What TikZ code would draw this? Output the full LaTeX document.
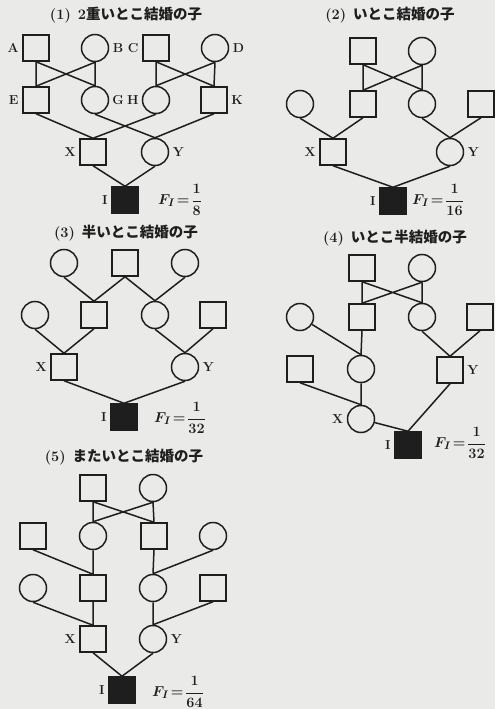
\documentclass[tikz,border=0pt]{standalone}
\usepackage{fontspec}
\newfontfamily\jp{Noto Sans CJK JP}
\definecolor{bg}{RGB}{234,234,232}
\definecolor{ink}{RGB}{30,30,30}
\newcommand{\fifrac}[2]{$F_I\!=\!{\displaystyle\frac{#1}{#2}}$}
\begin{document}
\begin{tikzpicture}[x=1pt,y=-1pt,
  sq/.style={draw=ink, rectangle, minimum size=26pt, inner sep=0pt, line width=1.5pt, fill=bg},
  ci/.style={draw=ink, circle, minimum size=27pt, inner sep=0pt, line width=1.5pt, fill=bg},
  aff/.style={draw=ink, fill=ink, rectangle, minimum size=26pt, inner sep=0pt, line width=1.5pt},
  ln/.style={draw=ink, line width=1.5pt},
  lab/.style={font=\fontsize{13}{15}\selectfont\bfseries, inner sep=1pt, text=ink},
  ttl/.style={font=\fontsize{14.5}{16}\selectfont\bfseries, text=ink},
  fval/.style={font=\fontsize{15}{17}\selectfont\boldmath, text=ink, inner sep=0pt},
  label distance=2.5pt,
  every label/.style={lab}]
\fill[bg] (0,0) rectangle (495,709);
\useasboundingbox (0,0) rectangle (495,709);

% ---------- (1)
\node[ttl] (t1) at (126,15) {(1)\hspace{7pt}2{\jp 重いとこ結婚の子}};
\node[sq, label=left:A]  (aA) at (36,48) {};
\node[ci, label=right:B] (aB) at (95,48) {};
\node[sq, label=left:C]  (aC) at (156,48) {};
\node[ci, label=right:D] (aD) at (215,48) {};
\node[sq, label=left:E]  (aE) at (36,100) {};
\node[ci, label={[label distance=2pt]right:G}] (aG) at (95,100) {};
\node[ci, label={[label distance=2pt]left:H}]  (aH) at (156,100) {};
\node[sq, label=right:K] (aK) at (214,100) {};
\node[sq, label=left:X]  (aX) at (93,152) {};
\node[ci, label=right:Y] (aY) at (155,152) {};
\node[aff, label=left:I] (aI) at (125,200) {};
\node[fval] (aF) at (180,200) {\fifrac{1}{8}};
\draw[ln] (aA.south) -- (aE.north) (aB.south) -- (aG.north)
          (aA.south) -- (aG.north) (aB.south) -- (aE.north)
          (aC.south) -- (aH.north) (aD.south) -- (aK.north)
          (aC.south) -- (aK.north) (aD.south) -- (aH.north)
          (aE.south) -- (aX.north) (aH.south) -- (aX.north)
          (aG.south) -- (aY.north) (aK.south) -- (aY.north)
          (aX.south) -- (aI.north) (aY.south) -- (aI.north);

% ---------- (2)
\node[ttl] (t2) at (390,15) {(2)\hspace{7pt}{\jp いとこ結婚の子}};
\node[sq] (b1) at (363,51) {};
\node[ci] (b2) at (422,51) {};
\node[ci] (b3) at (300,104) {};
\node[sq] (b4) at (363,104) {};
\node[ci] (b5) at (422,104) {};
\node[sq] (b6) at (481,104) {};
\node[sq, label=left:X]  (bX) at (333,152) {};
\node[ci, label=right:Y] (bY) at (450,152) {};
\node[aff, label=left:I] (bI) at (393,201) {};
\node[fval] (bF) at (438,200) {\fifrac{1}{16}};
\draw[ln] (b1.south) -- (b4.north) (b2.south) -- (b5.north)
          (b1.south) -- (b5.north) (b2.south) -- (b4.north)
          (b3.south) -- (bX.north) (b4.south) -- (bX.north)
          (b5.south) -- (bY.north) (b6.south) -- (bY.north)
          (bX.south) -- (bI.north) (bY.south) -- (bI.north);

% ---------- (3)
\node[ttl] (t3) at (126,233) {(3)\hspace{7pt}{\jp 半いとこ結婚の子}};
\node[ci] (c1) at (64,263) {};
\node[sq] (c2) at (125,263) {};
\node[ci] (c3) at (185,263) {};
\node[ci] (c4) at (35,315) {};
\node[sq] (c5) at (94,315) {};
\node[ci] (c6) at (155,315) {};
\node[sq] (c7) at (213,315) {};
\node[sq, label=left:X]  (cX) at (64,367) {};
\node[ci, label=right:Y] (cY) at (185,367) {};
\node[aff, label=left:I] (cI) at (124,417) {};
\node[fval] (cF) at (180,418) {\fifrac{1}{32}};
\draw[ln] (c1.south) -- (c5.north) (c2.south) -- (c5.north)
          (c2.south) -- (c6.north) (c3.south) -- (c6.north)
          (c4.south) -- (cX.north) (c5.south) -- (cX.north)
          (c6.south) -- (cY.north) (c7.south) -- (cY.north)
          (cX.south) -- (cI.north) (cY.south) -- (cI.north);

% ---------- (4)
\node[ttl] (t4) at (395,238) {(4)\hspace{7pt}{\jp いとこ半結婚の子}};
\node[sq] (d1) at (362,268) {};
\node[ci] (d2) at (422,268) {};
\node[ci] (d3) at (300,317) {};
\node[sq] (d4) at (362,317) {};
\node[ci] (d5) at (422,317) {};
\node[sq] (d6) at (480,317) {};
\node[sq] (d7) at (300,369) {};
\node[ci] (d8) at (361,369) {};
\node[sq, label=right:Y] (dY) at (450,370) {};
\node[ci, label=left:X]  (dX) at (361,419) {};
\node[aff, label=left:I] (dI) at (408,445) {};
\node[fval] (dF) at (460,443) {\fifrac{1}{32}};
\draw[ln] (d1.south) -- (d4.north) (d2.south) -- (d5.north)
          (d1.south) -- (d5.north) (d2.south) -- (d4.north)
          (d3) -- (d8.north) (d4.south) -- (d8.north)
          (d5.south) -- (dY.north) (d6.south) -- (dY.north)
          (d7.south) -- (dX.north) (d8.south) -- (dX.north)
          (dX) -- (dI.north) (dY.south) -- (dI.north);

% ---------- (5)
\node[ttl] (t5) at (124,457) {(5)\hspace{7pt}{\jp またいとこ結婚の子}};
\node[sq] (e1) at (93,488) {};
\node[ci] (e2) at (153,488) {};
\node[sq] (e3) at (33,536) {};
\node[ci] (e4) at (93,536) {};
\node[sq] (e5) at (154,536) {};
\node[ci] (e6) at (213,536) {};
\node[ci] (e7) at (33,588) {};
\node[sq] (e8) at (93,588) {};
\node[ci] (e9) at (153,588) {};
\node[sq] (e10) at (213,588) {};
\node[sq, label=left:X]  (eX) at (93,639) {};
\node[ci, label=right:Y] (eY) at (153,639) {};
\node[aff, label=left:I] (eI) at (122,690) {};
\node[fval] (eF) at (178,692) {\fifrac{1}{64}};
\draw[ln] (e1.south) -- (e4.north) (e2.south) -- (e5.north)
          (e1.south) -- (e5.north) (e2.south) -- (e4.north)
          (e3.south) -- (e8.north) (e4.south) -- (e8.north)
          (e5.south) -- (e9.north) (e6.south) -- (e9.north)
          (e7.south) -- (eX.north) (e8.south) -- (eX.north)
          (e9.south) -- (eY.north) (e10.south) -- (eY.north)
          (eX.south) -- (eI.north) (eY.south) -- (eI.north);
\end{tikzpicture}
\end{document}
